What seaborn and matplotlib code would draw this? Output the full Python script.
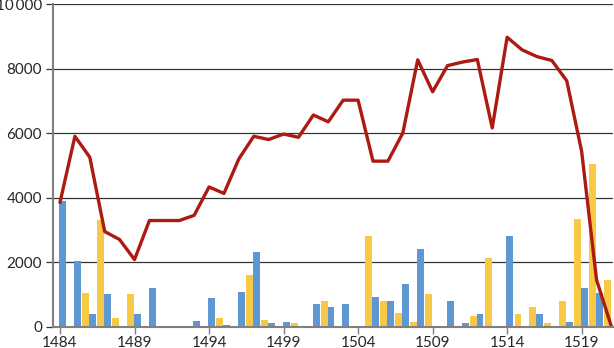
import numpy as np
import pandas as pd
import seaborn as sns
import matplotlib.pyplot as plt

# bar years (each group sits between year and year+1)
bar_years = list(range(1484, 1521))
blue_vals = [3900, 2050, 400, 1000, 0, 400, 1200, 0, 0, 170,
             880, 60, 1060, 2320, 100, 160, 0, 700, 600, 710,
             0, 920, 800, 1320, 2400, 0, 800, 110, 400, 0,
             2800, 0, 400, 0, 160, 1200, 1050]
yellow_vals = [0, 1050, 3300, 280, 1000, 0, 0, 0, 0, 0,
               270, 0, 1600, 200, 0, 100, 0, 800, 20, 0,
               2810, 800, 420, 150, 1000, 0, 0, 320, 2120, 0,
               400, 600, 110, 800, 3350, 5050, 1450]

# line series
line_years = list(range(1484, 1522))
line_vals = [3850, 5900, 5250, 2950, 2700, 2080, 3290, 3290, 3290, 3450,
             4330, 4130, 5200, 5900, 5800, 5970, 5870, 6560, 6350, 7020,
             7020, 5130, 5130, 6000, 8270, 7280, 8090, 8200, 8280, 6160,
             8970, 8580, 8370, 8250, 7620, 5430, 1450, 0]

xtick_years = [1484, 1489, 1494, 1499, 1504, 1509, 1514, 1519]
ytick_vals = [0, 2000, 4000, 6000, 8000, 10000]
ytick_labels = ["0", "2000", "4000", "6000", "8000", "10\u2009000"]

df = pd.DataFrame({
    "pos": np.array(bar_years * 2) + 0.455,
    "value": blue_vals + yellow_vals,
    "series": ["blue"] * len(bar_years) + ["yellow"] * len(bar_years),
})

sns.set_style("white")
plt.rcParams["font.family"] = ["Lato", "DejaVu Sans"]

fig = plt.figure(figsize=(6.14, 3.48), dpi=100)
ax = fig.add_axes([0.0863, 0.0612, 0.912, 0.9273])

sns.barplot(data=df, x="pos", y="value", hue="series", hue_order=["blue", "yellow"],
            palette={"blue": "#5f97d2", "yellow": "#f8c944"}, native_scale=True,
            width=1.1, gap=0.15, dodge=True, legend=False, errorbar=None,
            saturation=1, linewidth=0, ax=ax)
sns.lineplot(x=line_years, y=line_vals, color="#ad1a12", linewidth=2.4, ax=ax)

ax.set_xlim(1483.53, 1521.1)
ax.set_ylim(0, 10000)
ax.set_xticks(xtick_years)
ax.set_xticklabels([str(y) for y in xtick_years], fontsize=11)
ax.set_yticks(ytick_vals)
ax.set_yticklabels(ytick_labels, fontsize=11)
ax.set_xlabel("")
ax.set_ylabel("")

for y in ytick_vals[1:]:
    ax.axhline(y, color="#333333", linewidth=0.9, zorder=0.5)

for s in ["top", "right"]:
    ax.spines[s].set_visible(False)
ax.spines["left"].set_color("#808080")
ax.spines["left"].set_linewidth(1.5)
ax.spines["bottom"].set_color("#808080")
ax.spines["bottom"].set_linewidth(1.5)
ax.tick_params(axis="x", direction="out", length=5, width=1, color="#808080", pad=2)
ax.tick_params(axis="y", direction="out", length=5, width=0.9, color="#333333", pad=3)
ax.tick_params(axis="y", which="major", left=True)
ax.tick_params(axis="x", which="major", bottom=True)

fig.savefig("out.png", dpi=100)
